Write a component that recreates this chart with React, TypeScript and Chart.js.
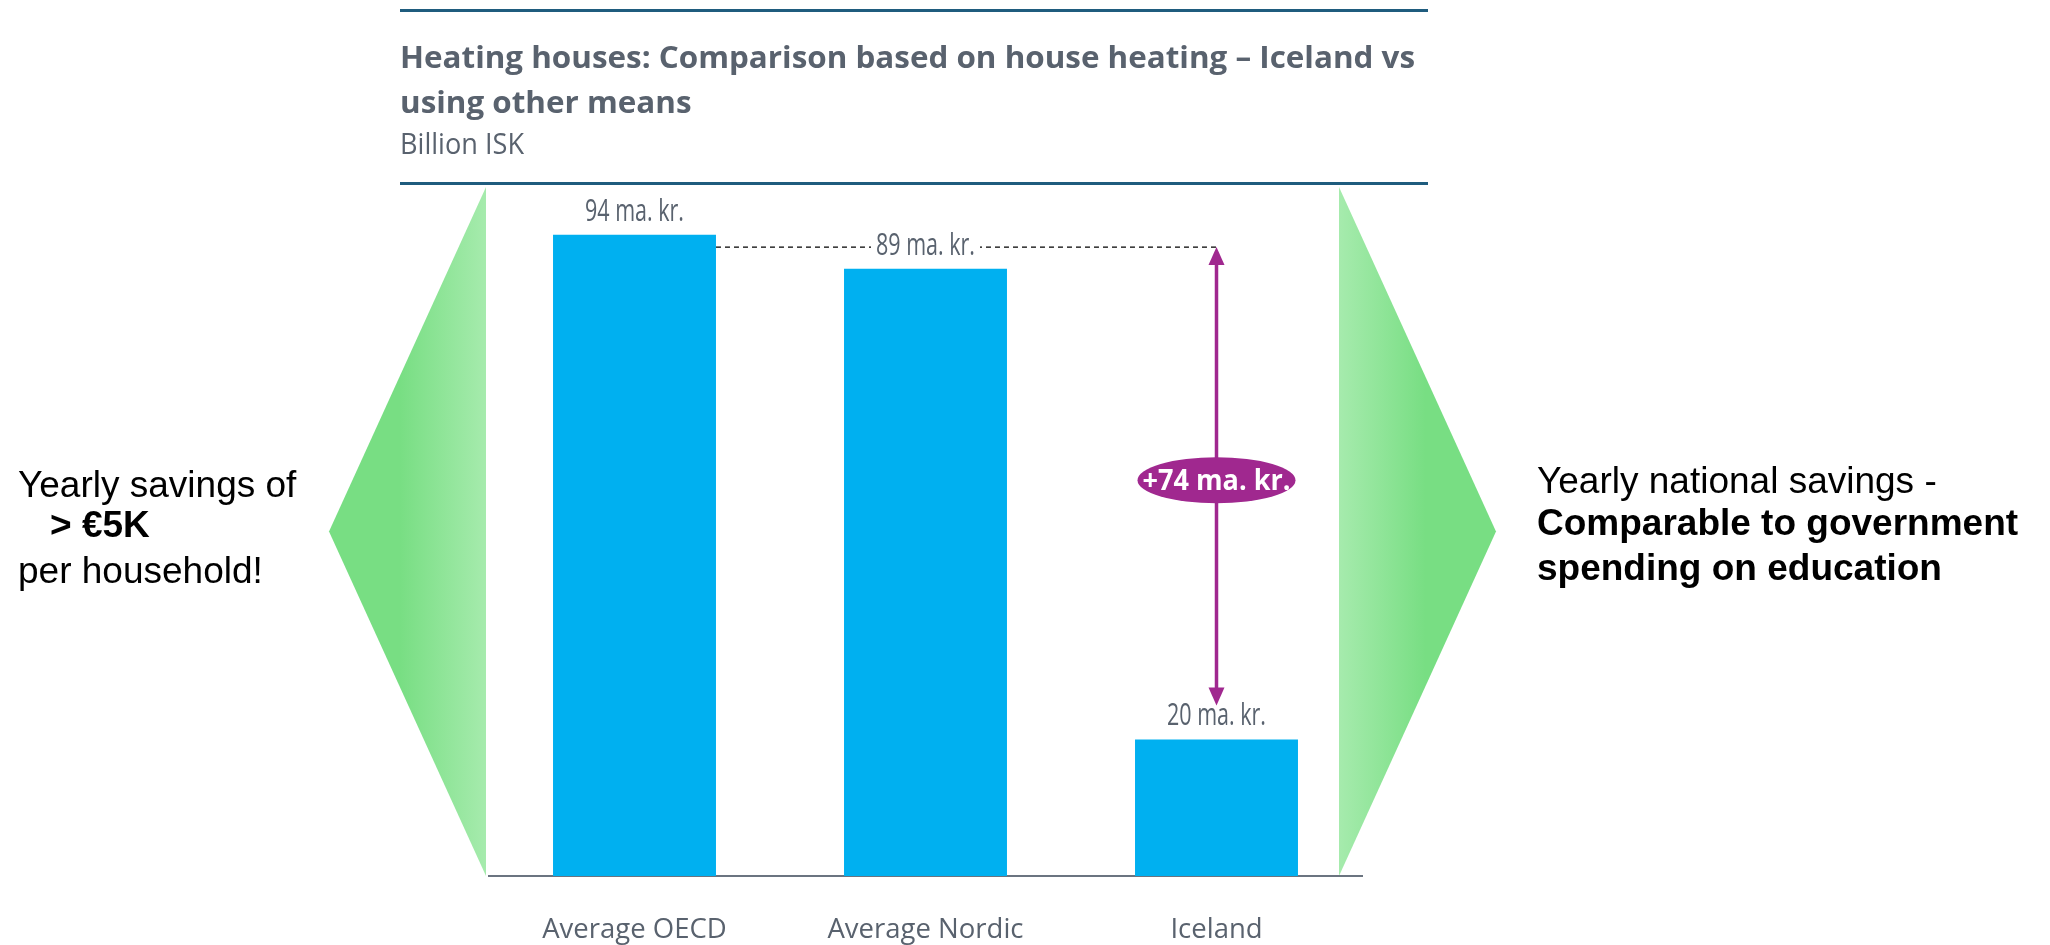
import { useEffect, useRef } from 'react';
import { Chart, registerables } from 'chart.js';

Chart.register(...registerables);

// ---- data ----
const categories = ['Average OECD', 'Average Nordic', 'Iceland'];
const values = [94, 89, 20];
const valueLabels = ['94 ma. kr.', '89 ma. kr.', '20 ma. kr.'];
const differenceLabel = '+74 ma. kr.';
const arrowRange = [92.2, 25];
const yMin = 0;
const yMax = 101;
const titleLines = ['Heating houses: Comparison based on house heating – Iceland vs', 'using other means'];
const subtitle = 'Billion ISK';
const leftNote = [
  { text: 'Yearly savings of', bold: false },
  { text: '> €5K', bold: true },
  { text: 'per household!', bold: false },
];
const rightNote = [
  { text: 'Yearly national savings -', bold: false },
  { text: 'Comparable to government', bold: true },
  { text: 'spending on education', bold: true },
];

const GREY = '#59626e';
const BAR = '#00b0f0';
const PURPLE = '#a0288f';
const RULE = '#1f5c7e';
const GREEN_DARK = '#78de83';
const GREEN_LIGHT = '#a6ebad';

function scaledText(
  ctx: CanvasRenderingContext2D,
  text: string,
  x: number,
  y: number,
  font: string,
  color: string,
  sx: number,
  align: CanvasTextAlign,
  baseline: CanvasTextBaseline
) {
  ctx.save();
  ctx.font = font;
  ctx.fillStyle = color;
  ctx.textAlign = align;
  ctx.textBaseline = baseline;
  ctx.translate(x, y);
  ctx.scale(sx, 1);
  ctx.fillText(text, 0, 0);
  ctx.restore();
}

function fitScale(ctx: CanvasRenderingContext2D, text: string, font: string, target: number) {
  ctx.save();
  ctx.font = font;
  const w = ctx.measureText(text).width;
  ctx.restore();
  return target / w;
}

const decorPlugin = {
  id: 'decor',
  beforeDraw(chart: any) {
    const ctx: CanvasRenderingContext2D = chart.ctx;
    const top = 187;
    const bottom = 876;
    const mid = (top + bottom) / 2;
    // left triangle
    let g = ctx.createLinearGradient(329, 0, 486, 0);
    g.addColorStop(0, GREEN_DARK);
    g.addColorStop(0.45, GREEN_DARK);
    g.addColorStop(1, GREEN_LIGHT);
    ctx.save();
    ctx.fillStyle = g;
    ctx.beginPath();
    ctx.moveTo(486, top);
    ctx.lineTo(486, bottom);
    ctx.lineTo(329, mid);
    ctx.closePath();
    ctx.fill();
    // right triangle
    g = ctx.createLinearGradient(1339, 0, 1496, 0);
    g.addColorStop(0, GREEN_LIGHT);
    g.addColorStop(0.55, GREEN_DARK);
    g.addColorStop(1, GREEN_DARK);
    ctx.fillStyle = g;
    ctx.beginPath();
    ctx.moveTo(1339, top);
    ctx.lineTo(1339, bottom);
    ctx.lineTo(1496, mid);
    ctx.closePath();
    ctx.fill();
    ctx.restore();

    // rules
    ctx.save();
    ctx.strokeStyle = RULE;
    ctx.lineWidth = 3;
    ctx.beginPath();
    ctx.moveTo(400, 10.5);
    ctx.lineTo(1428, 10.5);
    ctx.moveTo(400, 183.5);
    ctx.lineTo(1428, 183.5);
    ctx.stroke();
    ctx.restore();

    // title
    const tFont = '700 31px "Open Sans"';
    const tsx = fitScale(ctx, titleLines[0], tFont, 1015);
    scaledText(ctx, titleLines[0], 400, 68, tFont, GREY, tsx, 'left', 'alphabetic');
    scaledText(ctx, titleLines[1], 400, 113, tFont, GREY, tsx, 'left', 'alphabetic');
    const sFont = '400 29px "Open Sans"';
    const ssx = fitScale(ctx, subtitle, sFont, 124);
    scaledText(ctx, subtitle, 400, 154, sFont, GREY, ssx, 'left', 'alphabetic');

    // side notes
    const lb = [497, 537, 583];
    const lx = [18, 50, 18];
    leftNote.forEach((l, i) => {
      scaledText(ctx, l.text, lx[i], lb[i], `${l.bold ? 700 : 400} 37px "Liberation Sans"`, '#000', 1, 'left', 'alphabetic');
    });
    const rb = [493, 535, 580];
    rightNote.forEach((l, i) => {
      scaledText(ctx, l.text, 1537, rb[i], `${l.bold ? 700 : 400} 37px "Liberation Sans"`, '#000', 1, 'left', 'alphabetic');
    });
  },
  afterDatasetsDraw(chart: any) {
    const ctx: CanvasRenderingContext2D = chart.ctx;
    const meta = chart.getDatasetMeta(0);
    const yScale = chart.scales.y;
    const bars = meta.data;
    const yTop = yScale.getPixelForValue(arrowRange[0]);
    const yBot = yScale.getPixelForValue(arrowRange[1]);
    const ax = bars[2].x;

    // dashed reference line
    ctx.save();
    ctx.strokeStyle = '#000';
    ctx.lineWidth = 1.3;
    ctx.setLineDash([5, 4]);
    ctx.beginPath();
    ctx.moveTo(bars[0].x + bars[0].width / 2, yTop);
    ctx.lineTo(ax, yTop);
    ctx.stroke();
    ctx.restore();

    // value labels
    const vFont = '400 31px "Open Sans"';
    const vsx = fitScale(ctx, valueLabels[0], vFont, 99);
    bars.forEach((b: any, i: number) => {
      const y = b.y - 23;
      ctx.save();
      ctx.font = vFont;
      const w = ctx.measureText(valueLabels[i]).width * vsx;
      ctx.fillStyle = '#fff';
      ctx.fillRect(b.x - w / 2 - 5, y - 16, w + 10, 32);
      ctx.restore();
      scaledText(ctx, valueLabels[i], b.x, y, vFont, GREY, vsx, 'center', 'middle');
    });

    // double arrow
    ctx.save();
    ctx.strokeStyle = PURPLE;
    ctx.fillStyle = PURPLE;
    ctx.lineWidth = 3.5;
    const head = 18;
    const hw = 8;
    ctx.beginPath();
    ctx.moveTo(ax, yTop + head - 2);
    ctx.lineTo(ax, yBot - head + 2);
    ctx.stroke();
    ctx.beginPath();
    ctx.moveTo(ax, yTop);
    ctx.lineTo(ax - hw, yTop + head);
    ctx.lineTo(ax + hw, yTop + head);
    ctx.closePath();
    ctx.fill();
    ctx.beginPath();
    ctx.moveTo(ax, yBot);
    ctx.lineTo(ax - hw, yBot - head);
    ctx.lineTo(ax + hw, yBot - head);
    ctx.closePath();
    ctx.fill();
    // ellipse
    const cy = (yTop + yBot) / 2 + 4;
    ctx.beginPath();
    ctx.ellipse(ax, cy, 79, 23, 0, 0, Math.PI * 2);
    ctx.fill();
    ctx.restore();
    const eFont = '700 29px "Open Sans"';
    const esx = fitScale(ctx, differenceLabel, eFont, 148);
    scaledText(ctx, differenceLabel, ax, cy + 1, eFont, '#fff', esx, 'center', 'middle');
  },
};

export default function App() {
  const ref = useRef<HTMLCanvasElement | null>(null);
  useEffect(() => {
    if (!ref.current) return;
    const chart = new Chart(ref.current, {
      type: 'bar',
      data: {
        labels: categories,
        datasets: [
          {
            data: values,
            backgroundColor: BAR,
            borderWidth: 0,
            barPercentage: 0.56,
            categoryPercentage: 1,
          },
        ],
      },
      options: {
        responsive: false,
        animation: false,
        devicePixelRatio: 1,
        layout: { padding: { left: 489, right: 688, top: 187, bottom: 0 } },
        plugins: { legend: { display: false }, tooltip: { enabled: false }, title: { display: false } },
        scales: {
          x: {
            grid: { display: false, drawTicks: false },
            border: { display: true, color: '#6b7480', width: 2 },
            ticks: { color: GREY, font: { family: '"Open Sans"', size: 27.5 }, padding: 38 },
            afterFit: (s: any) => {
              s.height = 69;
            },
          },
          y: { display: false, min: yMin, max: yMax },
        },
      },
      plugins: [decorPlugin],
    });
    return () => chart.destroy();
  }, []);
  return (
    <div style={{ position: 'absolute', left: 0, top: 0, width: 2050, height: 945, background: '#fff' }}>
      <canvas ref={ref} width={2050} height={945} style={{ display: 'block' }} />
    </div>
  );
}
